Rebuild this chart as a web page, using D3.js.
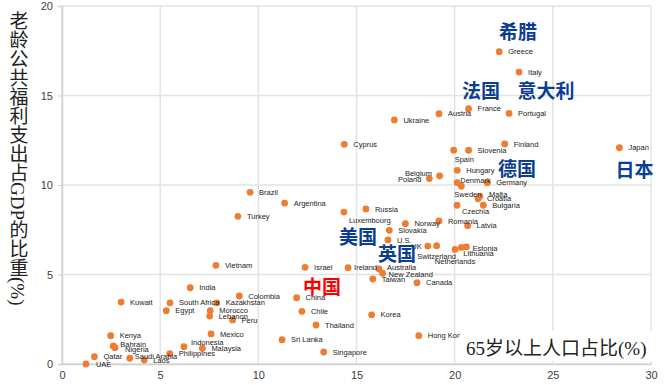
<!DOCTYPE html>
<html>
<head>
<meta charset="utf-8">
<script src="https://cdn.jsdelivr.net/npm/d3@7"></script>
<style>
  body { margin: 0; background: #fff; }
  svg { display: block; }
</style>
</head>
<body>
<div id="chart"></div>
<script>
// Data: share of population aged 65+ (x) and old-age public spending as % of GDP (y)
const countries = ["Greece","Italy","France","Portugal","Austria","Ukraine","Japan","Cyprus","Finland","Spain",
  "Slovenia","Hungary","Belgium","Poland","Denmark","Sweden","Germany","Malta","Croatia","Bulgaria",
  "Czechia","Romania","Latvia","Norway","Russia","Luxembourg","Slovakia","U.S.","UK","Switzerland",
  "Estonia","Lithuania","Netherlands","Brazil","Argentina","Turkey","Israel","Ireland","Australia","New Zealand",
  "Taiwan","Canada","Vietnam","India","Kuwait","South Africa","Kazakhstan","Colombia","China","Egypt",
  "Morocco","Lebanon","Peru","Chile","Korea","Thailand","Mexico","Kenya","Hong Kon","Sri Lanka",
  "Bahrain","Nigeria","Indonesia","Malaysia","Singapore","Philippines","Qatar","Saudi Arabia","Laos","UAE"];
const aged = [22.27,23.28,20.71,22.77,19.20,16.93,28.39,14.38,22.55,19.95,
  20.71,20.13,19.23,18.71,20.13,20.34,21.66,21.29,21.19,21.46,
  20.12,19.20,20.66,17.49,15.48,14.36,16.67,16.60,18.63,19.08,
  20.60,20.34,20.02,9.58,11.34,8.96,12.38,14.57,16.15,16.33,
  15.83,18.08,7.84,6.53,3.01,5.50,7.88,9.03,11.95,5.31,
  7.55,7.52,8.69,12.22,15.77,12.94,7.59,2.48,18.17,11.21,
  2.61,2.70,6.21,7.15,13.33,5.49,1.65,3.45,4.19,1.22];
const spending = [17.45,16.31,14.26,14.0,13.98,13.63,12.08,12.27,12.29,11.94,
  11.94,10.82,10.51,10.36,10.13,9.93,10.13,9.37,9.23,8.87,
  8.87,7.99,7.73,7.84,8.66,8.49,7.47,6.93,6.59,6.61,
  6.54,6.51,6.40,9.59,8.99,8.25,5.40,5.38,5.31,5.07,
  4.75,4.54,5.51,4.26,3.46,3.42,3.42,3.80,3.70,2.98,
  2.98,2.68,2.46,2.94,2.75,2.18,1.68,1.58,1.58,1.36,
  1.01,0.91,0.97,0.88,0.67,0.58,0.41,0.32,0.22,0.00];

// Chinese call-outs (centre, in data units)
const noteText = ["希腊","法国","意大利","德国","日本","美国","英国","中国"];
const noteX = [23.23,21.34,24.65,23.17,29.16,15.08,17.06,13.24];
const noteY = [18.55,15.25,15.25,10.89,10.84,7.09,6.15,4.30];

const xTicks = [0,5,10,15,20,25,30];
const yTicks = [0,5,10,15,20];

// label nudges where the default (right of dot) is not used
const nudge = {
  "Luxembourg": [5, 8, "start"], "UK": [-6, 0, "end"], "Switzerland": [0, 11, "middle"],
  "Netherlands": [0, 12, "middle"], "Lithuania": [2, 6, "start"], "Estonia": [6, 1, "start"],
  "Spain": [1, 9, "start"], "Belgium": [-7.5, -2.5, "end"], "Poland": [-8, 1, "end"],
  "Denmark": [3, -2.5, "start"], "Sweden": [-7, 8, "start"], "Malta": [9, -2, "start"],
  "Czechia": [5, 6, "start"], "Bahrain": [7, -2, "start"], "Nigeria": [10, 2, "start"],
  "Saudi Arabia": [5, -2, "start"], "Indonesia": [7, -4, "start"], "Australia": [8, -2, "start"],
  "New Zealand": [6, 1, "start"], "Ireland": [6, 0, "start"], "UAE": [10, 0, "start"]
};

const width = 665, height = 385;
const svg = d3.select("#chart").append("svg")
  .attr("width", width).attr("height", height)
  .style("font-family", "'Liberation Sans', Arial, sans-serif");

const x = d3.scaleLinear().domain([0, 30]).range([62, 651]);
const y = d3.scaleLinear().domain([0, 20]).range([364, 6]);

// grid
svg.append("g").selectAll("line").data(xTicks).join("line")
  .attr("x1", d => x(d)).attr("x2", d => x(d))
  .attr("y1", y(20)).attr("y2", y(0))
  .attr("stroke", "#e3e3e3").attr("stroke-width", 1.5);
svg.append("g").selectAll("line").data(yTicks).join("line")
  .attr("x1", x(0)).attr("x2", x(30))
  .attr("y1", d => y(d)).attr("y2", d => y(d))
  .attr("stroke", "#e3e3e3").attr("stroke-width", 1.5);

// axes
const yAxis = svg.append("g").attr("transform", `translate(${x(0)},0)`)
  .call(d3.axisLeft(y).tickValues(yTicks).tickSize(4).tickPadding(5));
const xAxis = svg.append("g").attr("transform", `translate(0,${y(0)})`)
  .call(d3.axisBottom(x).tickValues(xTicks).tickSize(0).tickPadding(7));
[xAxis, yAxis].forEach(a => {
  a.select(".domain").attr("stroke", "#d0d0d0").attr("stroke-width", 1.5);
  a.selectAll(".tick line").attr("stroke", "#d0d0d0");
  a.selectAll("text").attr("fill", "#404040").style("font-size", "11px")
    .style("font-family", "'Liberation Sans', Arial, sans-serif");
});

// points
const pts = countries.map((c, i) => ({ name: c, x: aged[i], y: spending[i] }));
svg.append("g").selectAll("circle").data(pts).join("circle")
  .attr("cx", d => x(d.x)).attr("cy", d => y(d.y)).attr("r", 3.4)
  .attr("fill", "#ee7d31");

svg.append("g").selectAll("text").data(pts).join("text")
  .attr("x", d => x(d.x) + (nudge[d.name] ? nudge[d.name][0] : 9))
  .attr("y", d => y(d.y) + (nudge[d.name] ? nudge[d.name][1] : 0))
  .attr("dy", "0.35em")
  .attr("text-anchor", d => nudge[d.name] ? nudge[d.name][2] : "start")
  .attr("fill", "#222")
  .style("font-size", "7.5px")
  .text(d => d.name);

// x title with white box
svg.append("rect").attr("x", 460).attr("y", 331).attr("width", 196).attr("height", 30).attr("fill", "#fff");
svg.append("text")
  .attr("x", 466).attr("y", 355)
  .style("font-family", "'Liberation Serif', 'Noto Sans CJK SC', serif")
  .style("font-size", "19px").attr("fill", "#222")
  .text("65岁以上人口占比(%)");

// y title, vertical
svg.append("text")
  .attr("x", 17).attr("y", 11)
  .style("writing-mode", "vertical-rl")
  .style("font-family", "'Liberation Serif', 'Noto Sans CJK SC', serif")
  .style("font-size", "19px").attr("fill", "#222")
  .text("老龄公共福利支出占GDP的比重(%)");

// call-outs
svg.append("g").selectAll("text").data(noteText).join("text")
  .attr("x", (d, i) => x(noteX[i])).attr("y", (d, i) => y(noteY[i]))
  .attr("dy", "0.36em").attr("text-anchor", "middle")
  .style("font-family", "'Noto Sans CJK SC', sans-serif")
  .style("font-size", "19px").style("font-weight", "700")
  .attr("fill", d => d === "中国" ? "#ff0000" : "#0b3d93")
  .text(d => d);
</script>
</body>
</html>
